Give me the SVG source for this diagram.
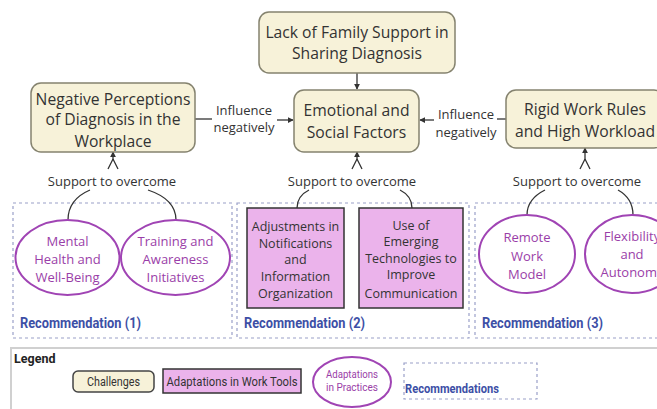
<svg xmlns="http://www.w3.org/2000/svg" width="657" height="409" viewBox="0 0 657 409">
<defs>
<marker id="arr" viewBox="0 0 8 8" refX="7" refY="4" markerWidth="6" markerHeight="6" orient="auto" markerUnits="userSpaceOnUse">
<path d="M0,0 L8,4 L0,8 z" fill="#333"/>
</marker>
<style>
.node{fill:#f7f2d9;stroke:#85836f;stroke-width:1.5}
.nt{font-family:"Open Sans","Noto Sans",sans-serif;font-size:15.7px;fill:#333;text-anchor:middle}
.lbl{font-family:"Open Sans","Noto Sans",sans-serif;font-size:13px;fill:#333;text-anchor:middle}
.tool{fill:#ebb3eb;stroke:#333;stroke-width:1.5}
.tt{font-family:"Open Sans","Noto Sans",sans-serif;font-size:12.5px;fill:#333;text-anchor:middle}
.prac{fill:#fff;stroke:#a044b4;stroke-width:2}
.pt{font-family:"Open Sans","Noto Sans",sans-serif;font-size:13px;fill:#9a3ea8;text-anchor:middle}
.rec{fill:none;stroke:#9aa0c8;stroke-width:1.2;stroke-dasharray:3 3}
.rt{font-family:Roboto,"Liberation Sans",sans-serif;font-weight:bold;font-size:15.5px;fill:#3d4fa6}
.edge{fill:none;stroke:#333;stroke-width:1.3}
.lg{font-family:Roboto,"Liberation Sans",sans-serif;font-size:12px;fill:#333;text-anchor:middle}
</style>
</defs>
<rect width="657" height="409" fill="#fff"/>

<g id="rec1"><rect class="rec" x="13" y="203" width="219" height="135"/><text class="rt" x="20" y="328" textLength="121" lengthAdjust="spacingAndGlyphs">Recommendation (1)</text></g>
<g id="rec2"><rect class="rec" x="237" y="203" width="232" height="135"/><text class="rt" x="244" y="328" textLength="121" lengthAdjust="spacingAndGlyphs">Recommendation (2)</text></g>
<g id="rec3"><rect class="rec" x="475" y="203" width="210" height="135"/><text class="rt" x="482" y="328" textLength="121" lengthAdjust="spacingAndGlyphs">Recommendation (3)</text></g>

<g id="connectors">
<line class="edge" x1="357" y1="73" x2="357" y2="89" marker-end="url(#arr)"/>
<path class="edge" d="M195,119 L212,119"/>
<line class="edge" x1="277" y1="120" x2="293" y2="120" marker-end="url(#arr)"/>
<text class="lbl" x="244" y="115">Influence</text>
<text class="lbl" x="244" y="132">negatively</text>
<path class="edge" d="M506,119 L497,119"/>
<line class="edge" x1="434" y1="120" x2="420" y2="120" marker-end="url(#arr)"/>
<text class="lbl" x="466" y="119">Influence</text>
<text class="lbl" x="466" y="137">negatively</text>

<path class="edge" d="M68,220 C68,205 76,196 90,190 M108,169 L113,159 M176,220 C176,205 166,196 148,190 M118,169 L113,159"/>
<line class="edge" x1="113" y1="160" x2="113" y2="152" marker-end="url(#arr)"/>
<text class="lbl" x="112" y="186">Support to overcome</text>

<path class="edge" d="M297,208 C297,199 301,194 309,190 M352,169 L357,159 M412,208 C412,199 408,194 400,190 M362,169 L357,159"/>
<line class="edge" x1="357" y1="160" x2="357" y2="152" marker-end="url(#arr)"/>
<text class="lbl" x="352" y="186">Support to overcome</text>

<path class="edge" d="M527,215 C527,203 535,195 545,190 M580,169 L585,159 M633,215 C633,203 627,195 618,190 M590,169 L585,159"/>
<line class="edge" x1="585" y1="160" x2="585" y2="148" marker-end="url(#arr)"/>
<text class="lbl" x="577" y="186">Support to overcome</text>
</g>

<g id="lack"><rect class="node" x="259" y="12" width="196" height="61" rx="10"/><text class="nt" x="357" y="38">Lack of Family Support in</text><text class="nt" x="357" y="59">Sharing Diagnosis</text></g>
<g id="emotional"><rect class="node" x="294" y="90" width="125" height="62" rx="10"/><text class="nt" x="356.5" y="116">Emotional and</text><text class="nt" x="356.5" y="138">Social Factors</text></g>
<g id="negative"><rect class="node" x="31" y="83" width="164" height="69" rx="10"/><text class="nt" x="113" y="105">Negative Perceptions</text><text class="nt" x="113" y="125">of Diagnosis in the</text><text class="nt" x="113" y="147">Workplace</text></g>
<g id="rigid"><rect class="node" x="506" y="90" width="158" height="58" rx="10"/><text class="nt" x="585" y="115">Rigid Work Rules</text><text class="nt" x="585" y="137">and High Workload</text></g>

<g id="mental"><ellipse class="prac" cx="67.5" cy="257.5" rx="52" ry="37.5"/><text class="pt" x="67.5" y="246">Mental</text><text class="pt" x="67.5" y="264">Health and</text><text class="pt" x="67.5" y="282">Well-Being</text></g>
<g id="training"><ellipse class="prac" cx="175.5" cy="257.5" rx="54.5" ry="37.5"/><text class="pt" x="175.5" y="246">Training and</text><text class="pt" x="175.5" y="264">Awareness</text><text class="pt" x="175.5" y="282">Initiatives</text></g>

<g id="adjust"><rect class="tool" x="247" y="208" width="97" height="100"/><text class="tt" x="295.5" y="231">Adjustments in</text><text class="tt" x="295.5" y="247.5">Notifications</text><text class="tt" x="295.5" y="264">and</text><text class="tt" x="295.5" y="281">Information</text><text class="tt" x="295.5" y="297.5">Organization</text></g>
<g id="emerging"><rect class="tool" x="359" y="208" width="104" height="100"/><text class="tt" x="411" y="229.5">Use of</text><text class="tt" x="411" y="246">Emerging</text><text class="tt" x="411" y="262.5">Technologies to</text><text class="tt" x="411" y="279">Improve</text><text class="tt" x="411" y="298">Communication</text></g>

<g id="remote"><ellipse class="prac" cx="527" cy="254" rx="48" ry="39"/><text class="pt" x="527" y="242">Remote</text><text class="pt" x="527" y="261">Work</text><text class="pt" x="527" y="279">Model</text></g>
<g id="flex"><ellipse class="prac" cx="632" cy="254" rx="47" ry="39"/><text class="pt" x="632" y="241">Flexibility</text><text class="pt" x="632" y="259">and</text><text class="pt" x="632" y="277">Autonomy</text></g>

<g id="legend">
<rect x="11" y="348" width="700" height="100" fill="none" stroke="#d0d0d0" stroke-width="2"/>
<text x="14" y="363" font-family="Roboto,'Liberation Sans',sans-serif" font-weight="bold" font-size="12.5" fill="#222">Legend</text>
<rect x="73" y="371" width="81" height="21" rx="5" fill="#f7f2d9" stroke="#444" stroke-width="1.5"/>
<text class="lg" x="113.5" y="386" textLength="53" lengthAdjust="spacingAndGlyphs">Challenges</text>
<rect x="163" y="369" width="138" height="24" fill="#ebb3eb" stroke="#333" stroke-width="1.5"/>
<text class="lg" x="232" y="386" textLength="131" lengthAdjust="spacingAndGlyphs">Adaptations in Work Tools</text>
<ellipse cx="352" cy="382" rx="39" ry="25" fill="#fff" stroke="#a044b4" stroke-width="2"/>
<text class="lg" x="352" y="378" style="fill:#9a3ea8;font-size:11px" textLength="52" lengthAdjust="spacingAndGlyphs">Adaptations</text>
<text class="lg" x="352" y="391" style="fill:#9a3ea8;font-size:11px" textLength="52" lengthAdjust="spacingAndGlyphs">in Practices</text>
<rect class="rec" x="404" y="363" width="133" height="36"/>
<text x="405" y="393" font-family="Roboto,'Liberation Sans',sans-serif" font-weight="bold" font-size="13" fill="#3d4fa6" textLength="94" lengthAdjust="spacingAndGlyphs">Recommendations</text>
</g>
</svg>
